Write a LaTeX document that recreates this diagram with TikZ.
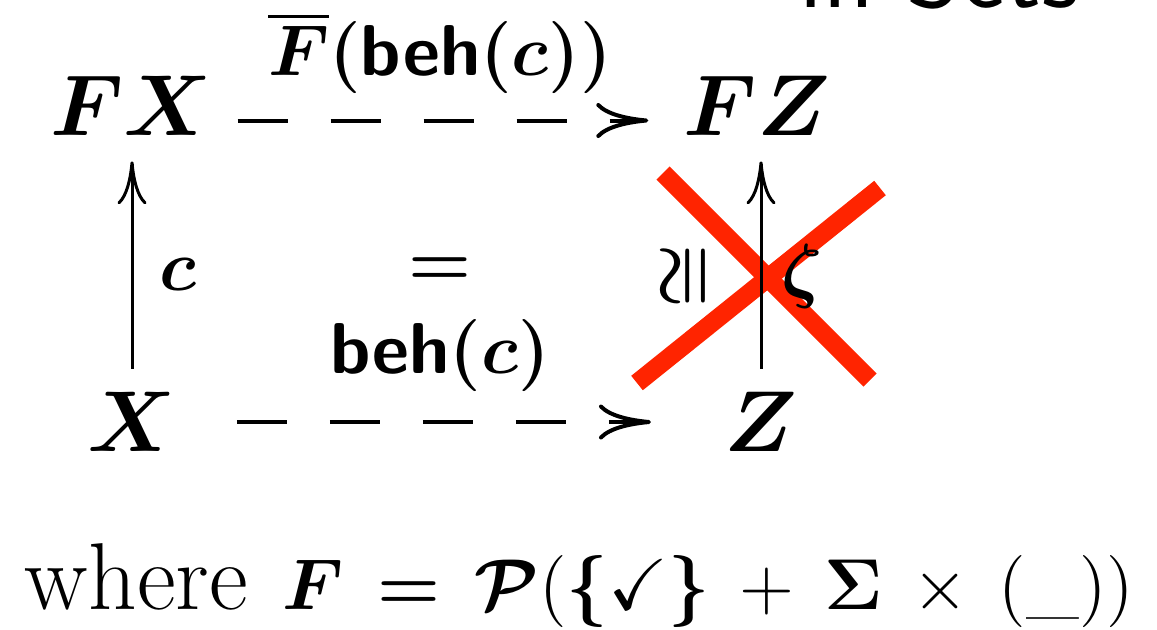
\documentclass[tikz,border=0pt]{standalone}
\usepackage{amsmath,amssymb,bm}
\usetikzlibrary{arrows.meta}
\definecolor{crossred}{RGB}{255,36,0}
\begin{document}
\begin{tikzpicture}[x=0.2pt,y=-0.2pt,font=\Large\boldmath,
  >={Computer Modern Rightarrow[length=8.6pt,width=5.8pt]},
  obj/.style={font=\LARGE\boldmath},
  dasharrow/.style={->, line width=0.8pt, dash pattern=on 10pt off 8.6pt,
    >={Computer Modern Rightarrow[length=10.4pt,width=7pt]}}]
\useasboundingbox (0,0) rectangle (1157,629);
% the cross goes under the arrow
\draw[crossred, line width=3.7pt] (663,173) -- (870,380);
\draw[crossred, line width=3.7pt] (637,383) -- (880,188);

\node[anchor=base west, font=\fontsize{21}{24}\selectfont\sffamily] (cat) at (782,7) {in Sets};
\node[obj] (fx) at (131,106) {$F X$};
\node[obj] (fz) at (757,106) {$F Z$};
\node[obj] (x) at (132,422) {$X$};
\node[obj] (z) at (761,422) {$Z$};
\node (eq) at (440,272) {$=$};
\node (beh) at (440,355) {$\textsf{\textbf{beh}}(c)$};
\node (fbeh) at (440,53) {$\overline{F}(\textsf{\textbf{beh}}(c))$};

\draw[dasharrow, shorten <=1.6pt, shorten >=3.6pt] ([yshift=-2.9pt]fx.east) -- ([yshift=-2.9pt]fz.west);
\draw[dasharrow, shorten <=8.6pt, shorten >=11.2pt] (x.east) -- (z.west);
\draw[->, line width=0.6pt, shorten >=1.6pt] (x.north) ++(0,1.2pt) -- (x.north |- fx.south);
\draw[->, line width=0.6pt, shorten >=1.6pt] (z.north) ++(0,1.2pt) -- (z.north |- fz.south);
\node (c) at (178,274) {$c$};
\node (zeta) at (802,276) {$\zeta$};
\node[rotate=90] (iso) at (687,276) {$\cong$};

\node[anchor=base west, inner sep=0pt, font=\Large] (where) at (24,609) {\fontsize{19}{23}\selectfont where\hspace{7pt}\Large\thickmuskip=8.5mu\medmuskip=7.5mu$\bm{F} \mathrel{\bm{=}} \bm{\mathcal{P}}(\bm{\{}\bm{\checkmark}\bm{\}} + \bm{\Sigma} \times (\_))$};
\end{tikzpicture}
\end{document}
